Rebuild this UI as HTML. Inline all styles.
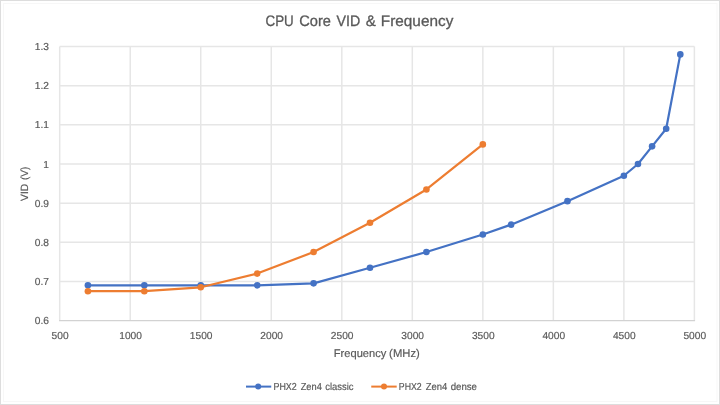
<!DOCTYPE html>
<html><head><meta charset="utf-8"><title>CPU Core VID &amp; Frequency</title><style>
html,body{margin:0;padding:0;background:#fff;}
svg{display:block;will-change:transform;}
text{font-family:"Liberation Sans",Arial,sans-serif;fill:#595959;stroke:#595959;stroke-width:0.18px;text-rendering:geometricPrecision;}
.tt{stroke-width:0.3px;}
</style></head><body>
<svg width="720" height="405" viewBox="0 0 720 405">
<rect x="0.5" y="0.5" width="719" height="404" fill="#fff" stroke="#dddddd" stroke-width="1"/>
<rect x="3.5" y="3.5" width="713.5" height="398" fill="none" stroke="#f7f7f7" stroke-width="1"/>
<g stroke="#e6e6e6" stroke-width="1.5">
<line x1="59.70" y1="46.56" x2="59.70" y2="320.56"/>
<line x1="130.22" y1="46.56" x2="130.22" y2="320.56"/>
<line x1="200.74" y1="46.56" x2="200.74" y2="320.56"/>
<line x1="271.27" y1="46.56" x2="271.27" y2="320.56"/>
<line x1="341.79" y1="46.56" x2="341.79" y2="320.56"/>
<line x1="412.31" y1="46.56" x2="412.31" y2="320.56"/>
<line x1="482.83" y1="46.56" x2="482.83" y2="320.56"/>
<line x1="553.36" y1="46.56" x2="553.36" y2="320.56"/>
<line x1="623.88" y1="46.56" x2="623.88" y2="320.56"/>
<line x1="694.40" y1="46.56" x2="694.40" y2="320.56"/>
<line x1="59.70" y1="281.42" x2="694.40" y2="281.42"/>
<line x1="59.70" y1="242.27" x2="694.40" y2="242.27"/>
<line x1="59.70" y1="203.13" x2="694.40" y2="203.13"/>
<line x1="59.70" y1="163.99" x2="694.40" y2="163.99"/>
<line x1="59.70" y1="124.85" x2="694.40" y2="124.85"/>
<line x1="59.70" y1="85.70" x2="694.40" y2="85.70"/>
<line x1="59.70" y1="46.56" x2="694.40" y2="46.56"/>
</g>
<line x1="59.05" y1="320.56" x2="695.05" y2="320.56" stroke="#d2d2d2" stroke-width="1.3"/>
<g font-size="10.2">
<text x="49" y="324.16" text-anchor="end">0.6</text>
<text x="49" y="285.02" text-anchor="end">0.7</text>
<text x="49" y="245.87" text-anchor="end">0.8</text>
<text x="49" y="206.73" text-anchor="end">0.9</text>
<text x="49" y="167.59" text-anchor="end">1</text>
<text x="49" y="128.45" text-anchor="end">1.1</text>
<text x="49" y="89.30" text-anchor="end">1.2</text>
<text x="49" y="50.16" text-anchor="end">1.3</text>
<text x="60.10" y="338.6" text-anchor="middle">500</text>
<text x="130.62" y="338.6" text-anchor="middle">1000</text>
<text x="201.14" y="338.6" text-anchor="middle">1500</text>
<text x="271.67" y="338.6" text-anchor="middle">2000</text>
<text x="342.19" y="338.6" text-anchor="middle">2500</text>
<text x="412.71" y="338.6" text-anchor="middle">3000</text>
<text x="483.23" y="338.6" text-anchor="middle">3500</text>
<text x="553.76" y="338.6" text-anchor="middle">4000</text>
<text x="624.28" y="338.6" text-anchor="middle">4500</text>
<text x="694.80" y="338.6" text-anchor="middle">5000</text>
</g>
<text y="26.2" font-size="15.2" class="tt"><tspan x="265.54" textLength="28.21" lengthAdjust="spacingAndGlyphs">CPU</tspan> <tspan x="299.28" textLength="31.67" lengthAdjust="spacingAndGlyphs">Core</tspan> <tspan x="336.47" textLength="23.78" lengthAdjust="spacingAndGlyphs">VID</tspan> <tspan x="365.70" textLength="10.14" lengthAdjust="spacingAndGlyphs">&amp;</tspan> <tspan x="380.84" textLength="72.48" lengthAdjust="spacingAndGlyphs">Frequency</tspan></text>
<text y="389.8" font-size="10.2"><tspan x="273.44" textLength="23.28" lengthAdjust="spacingAndGlyphs">PHX2</tspan> <tspan x="300.67" textLength="21.14" lengthAdjust="spacingAndGlyphs">Zen4</tspan> <tspan x="325.24" textLength="28.27" lengthAdjust="spacingAndGlyphs">classic</tspan></text>
<text y="389.8" font-size="10.2"><tspan x="398.86" textLength="22.87" lengthAdjust="spacingAndGlyphs">PHX2</tspan> <tspan x="425.67" textLength="21.55" lengthAdjust="spacingAndGlyphs">Zen4</tspan> <tspan x="450.63" textLength="26.36" lengthAdjust="spacingAndGlyphs">dense</tspan></text>
<text y="356.6" font-size="11.2"><tspan x="333.81" textLength="52.50" lengthAdjust="spacingAndGlyphs">Frequency</tspan> <tspan x="389.14" textLength="30.66" lengthAdjust="spacingAndGlyphs">(MHz)</tspan></text>
<text transform="translate(27.6,0) rotate(-90)" y="0" font-size="10.5"><tspan x="-200.90" textLength="17.00" lengthAdjust="spacingAndGlyphs">VID</tspan> <tspan x="-180.02" textLength="13.44" lengthAdjust="spacingAndGlyphs">(V)</tspan></text>
<polyline points="87.91,285.33 144.33,285.33 200.74,285.33 257.16,285.33 313.58,283.37 370.00,267.72 426.42,252.06 482.83,234.45 511.04,224.66 567.46,201.17 623.88,175.73 637.98,163.99 652.09,146.37 666.19,128.76 680.30,54.39" fill="none" stroke="#4472C4" stroke-width="2.2" stroke-linejoin="round" stroke-linecap="round"/>
<circle cx="87.91" cy="285.33" r="3.3" fill="#4472C4"/>
<circle cx="144.33" cy="285.33" r="3.3" fill="#4472C4"/>
<circle cx="200.74" cy="285.33" r="3.3" fill="#4472C4"/>
<circle cx="257.16" cy="285.33" r="3.3" fill="#4472C4"/>
<circle cx="313.58" cy="283.37" r="3.3" fill="#4472C4"/>
<circle cx="370.00" cy="267.72" r="3.3" fill="#4472C4"/>
<circle cx="426.42" cy="252.06" r="3.3" fill="#4472C4"/>
<circle cx="482.83" cy="234.45" r="3.3" fill="#4472C4"/>
<circle cx="511.04" cy="224.66" r="3.3" fill="#4472C4"/>
<circle cx="567.46" cy="201.17" r="3.3" fill="#4472C4"/>
<circle cx="623.88" cy="175.73" r="3.3" fill="#4472C4"/>
<circle cx="637.98" cy="163.99" r="3.3" fill="#4472C4"/>
<circle cx="652.09" cy="146.37" r="3.3" fill="#4472C4"/>
<circle cx="666.19" cy="128.76" r="3.3" fill="#4472C4"/>
<circle cx="680.30" cy="54.39" r="3.3" fill="#4472C4"/>
<polyline points="87.91,291.20 144.33,291.20 200.74,287.29 257.16,273.59 313.58,252.06 370.00,222.70 426.42,189.43 482.83,144.42" fill="none" stroke="#ED7D31" stroke-width="2.2" stroke-linejoin="round" stroke-linecap="round"/>
<circle cx="87.91" cy="291.20" r="3.3" fill="#ED7D31"/>
<circle cx="144.33" cy="291.20" r="3.3" fill="#ED7D31"/>
<circle cx="200.74" cy="287.29" r="3.3" fill="#ED7D31"/>
<circle cx="257.16" cy="273.59" r="3.3" fill="#ED7D31"/>
<circle cx="313.58" cy="252.06" r="3.3" fill="#ED7D31"/>
<circle cx="370.00" cy="222.70" r="3.3" fill="#ED7D31"/>
<circle cx="426.42" cy="189.43" r="3.3" fill="#ED7D31"/>
<circle cx="482.83" cy="144.42" r="3.3" fill="#ED7D31"/>
<line x1="246" y1="386.6" x2="271.25" y2="386.6" stroke="#4472C4" stroke-width="2"/>
<circle cx="258.2" cy="386.6" r="3" fill="#4472C4"/>
<line x1="371.25" y1="386.6" x2="396.7" y2="386.6" stroke="#ED7D31" stroke-width="2"/>
<circle cx="384" cy="386.6" r="3" fill="#ED7D31"/>
</svg>
</body></html>
